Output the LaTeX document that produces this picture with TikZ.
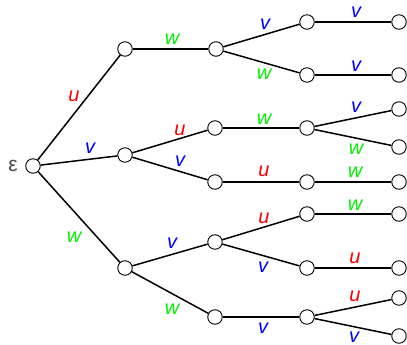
\documentclass[tikz,border=0pt]{standalone}
\usepackage{fontspec}
\setmainfont{Liberation Sans}
\begin{document}
\begin{tikzpicture}[x=1pt,y=-1pt,
  vtx/.style={circle,draw=black,fill=white,line width=0.9pt,minimum size=14.5pt,inner sep=0pt},
  edg/.style={line width=1.5pt,black},
  lab/.style={inner sep=0pt,font=\fontsize{20}{20}\selectfont\itshape},
  lu/.style={lab,text={rgb,255:red,255;green,0;blue,0}},
  lv/.style={lab,text={rgb,255:red,0;green,0;blue,255}},
  lw/.style={lab,text={rgb,255:red,0;green,240;blue,0}}]
\useasboundingbox (0,0) rectangle (407,345);
% nodes
\node[vtx] (r) at (33,166) {};
\node[vtx] (a) at (125,49) {};
\node[vtx] (b) at (125,155) {};
\node[vtx] (c) at (125,268) {};
\node[vtx] (a1) at (216,49) {};
\node[vtx] (b1) at (215,128) {};
\node[vtx] (b2) at (215,182) {};
\node[vtx] (c1) at (215,242) {};
\node[vtx] (c2) at (215,317) {};
\node[vtx] (a11) at (307,22) {};
\node[vtx] (a12) at (307,75) {};
\node[vtx] (b11) at (307,128) {};
\node[vtx] (b21) at (307,182) {};
\node[vtx] (c11) at (307,214) {};
\node[vtx] (c12) at (307,268) {};
\node[vtx] (c21) at (307,317) {};
\node[vtx] (a111) at (399,22) {};
\node[vtx] (a121) at (399,75) {};
\node[vtx] (b111) at (399,109) {};
\node[vtx] (b112) at (399,147) {};
\node[vtx] (b211) at (399,182) {};
\node[vtx] (c111) at (399,214) {};
\node[vtx] (c121) at (399,268) {};
\node[vtx] (c211) at (399,298) {};
\node[vtx] (c212) at (399,336) {};
% edges
\draw[edg] (r) -- (a);
\draw[edg] (r) -- (b);
\draw[edg] (r) -- (c);
\draw[edg] (a) -- (a1);
\draw[edg] (b) -- (b1);
\draw[edg] (b) -- (b2);
\draw[edg] (c) -- (c1);
\draw[edg] (c) -- (c2);
\draw[edg] (a1) -- (a11);
\draw[edg] (a1) -- (a12);
\draw[edg] (b1) -- (b11);
\draw[edg] (b2) -- (b21);
\draw[edg] (c1) -- (c11);
\draw[edg] (c1) -- (c12);
\draw[edg] (c2) -- (c21);
\draw[edg] (a11) -- (a111);
\draw[edg] (a12) -- (a121);
\draw[edg] (b11) -- (b111);
\draw[edg] (b11) -- (b112);
\draw[edg] (b21) -- (b211);
\draw[edg] (c11) -- (c111);
\draw[edg] (c12) -- (c121);
\draw[edg] (c21) -- (c211);
\draw[edg] (c21) -- (c212);
% labels
\node[inner sep=0pt,text={rgb,255:red,70;green,70;blue,70},font=\fontsize{21}{21}\selectfont] (eps) at (13,166) {ε};
\node[lu] (l1) at (74,96) {u};
\node[lv] (l2) at (90,148) {v};
\node[lw] (l3) at (74,237) {w};
\node[lw] (l4) at (172,39) {w};
\node[lu] (l5) at (180,130) {u};
\node[lv] (l6) at (180,161) {v};
\node[lv] (l7) at (172,243) {v};
\node[lw] (l8) at (172,309) {w};
\node[lv] (l9) at (265,24) {v};
\node[lw] (l10) at (264,74) {w};
\node[lw] (l11) at (264,119) {w};
\node[lu] (l12) at (264,171) {u};
\node[lu] (l13) at (264,218) {u};
\node[lv] (l14) at (263,267) {v};
\node[lv] (l15) at (263,328) {v};
\node[lv] (l16) at (356,12) {v};
\node[lv] (l17) at (356,66) {v};
\node[lv] (l18) at (356,107) {v};
\node[lw] (l19) at (356,149) {w};
\node[lw] (l20) at (355,172) {w};
\node[lw] (l21) at (355,205) {w};
\node[lu] (l22) at (355,258) {u};
\node[lu] (l23) at (355,296) {u};
\node[lv] (l24) at (354,337) {v};
\end{tikzpicture}
\end{document}
